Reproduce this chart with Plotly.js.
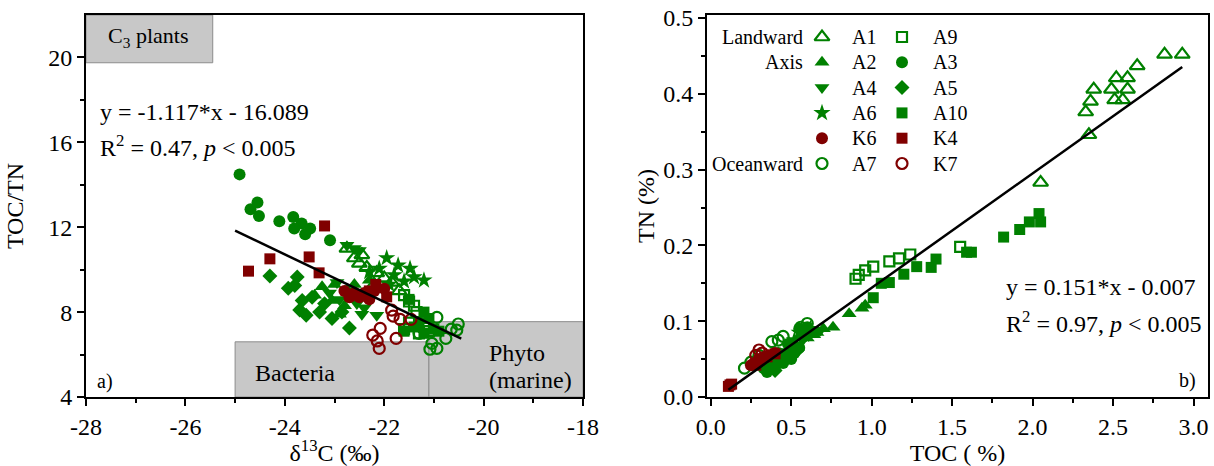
<!DOCTYPE html>
<html>
<head>
<meta charset="utf-8">
<script src="https://cdn.plot.ly/plotly-3.0.1.min.js"></script>
<style>html,body{margin:0;padding:0;background:#fff;}#chart{width:1214px;height:466px;}</style>
</head>
<body>
<div id="chart"></div>
<script>
// ---------- DATA : panel a) delta13C (‰) vs TOC/TN ----------
const A1_d13C  = [-22.75,-22.6,-22.45,-22.35,-22.15,-22.0,-21.85,-22.5,-21.7,-22.2];
const A1_TOCTN = [11.0,10.55,10.7,10.1,9.85,9.6,9.4,10.3,9.0,9.3];
const A2_d13C  = [-23.25,-23.0,-22.75,-23.05,-22.8,-22.6,-23.4,-22.9,-22.3,-22.6];
const A2_TOCTN = [9.2,9.3,9.05,8.55,8.3,8.6,8.8,7.9,9.5,9.3];
const A3_d13C  = [-24.91,-24.55,-24.69,-24.52,-24.11,-23.83,-23.81,-23.66,-23.59,-23.49,-23.09];
const A3_TOCTN = [14.49,13.16,12.85,12.53,12.28,12.48,11.94,12.17,11.67,11.94,11.39];
const A4_d13C  = [-22.75,-22.6,-22.5,-22.95,-22.7,-22.4,-22.15,-22.45,-22.9,-23.1,-22.55];
const A4_TOCTN = [11.15,11.0,10.9,9.4,9.0,8.2,7.85,7.9,8.6,8.9,8.4];
const A5_d13C  = [-24.3,-23.75,-23.93,-23.8,-23.65,-23.45,-23.57,-23.05,-22.7,-23.2,-23.7,-23.3,-22.85];
const A5_TOCTN = [9.7,9.65,9.12,9.25,8.55,8.7,7.85,7.7,7.25,8.4,8.1,8.0,8.0];
const A6_d13C  = [-21.95,-21.72,-21.48,-21.2,-21.4,-21.8,-21.6,-22.1,-22.3,-21.9];
const A6_TOCTN = [10.55,10.2,10.05,9.5,9.65,9.75,9.45,10.05,9.9,9.3];
const A7_d13C  = [-20.94,-20.51,-20.54,-20.76,-21.04,-21.08,-20.94,-21.3,-20.65];
const A7_TOCTN = [7.75,7.44,7.15,6.76,6.53,6.25,6.29,7.0,7.2];
const A9_d13C  = [-21.6,-21.5,-21.4,-21.6,-21.3,-21.2,-21.5,-21.35,-21.1];
const A9_TOCTN = [8.8,8.5,8.3,7.2,7.0,7.3,7.5,8.0,7.1];
const A10_d13C = [-21.5,-21.2,-21.1,-21.4,-21.2,-21.0,-21.6,-21.3,-20.9];
const A10_TOCTN= [8.6,8.0,7.7,7.3,7.0,7.2,7.1,7.5,7.1];
const K6_d13C  = [-22.8,-22.6,-22.5,-22.3,-22.2,-22.4,-22.7,-22.0];
const K6_TOCTN = [9.0,8.9,8.7,8.6,9.0,8.9,8.7,9.1];
const K4_d13C  = [-23.2,-24.3,-24.73,-23.51,-23.31,-22.17,-21.95,-22.3];
const K4_TOCTN = [12.06,10.51,9.93,10.6,9.85,9.3,8.72,9.0];
const K7_d13C  = [-21.85,-21.82,-21.68,-21.46,-22.08,-22.23,-22.14,-22.10,-21.76];
const K7_TOCTN = [8.09,7.81,7.66,7.66,7.23,6.92,6.64,6.29,6.76];

// ---------- DATA : panel b) TOC (%) vs TN (%) ----------
const A1_TOC  = [2.82,2.93,2.65,2.52,2.59,2.38,2.49,2.59,2.36,2.51,2.56,2.33,2.35,2.05];
const A1_TN   = [0.452,0.452,0.437,0.421,0.421,0.406,0.406,0.406,0.390,0.392,0.392,0.376,0.346,0.283];
const A2_TOC  = [0.96,0.94,0.86,0.76,0.70,0.64,0.60,0.66];
const A2_TN   = [0.121,0.117,0.110,0.092,0.090,0.082,0.078,0.085];
const A3_TOC  = [0.35,0.40,0.45,0.50,0.52,0.55,0.58,0.60,0.55,0.48,0.42,0.38,0.33];
const A3_TN   = [0.033,0.040,0.045,0.050,0.058,0.065,0.080,0.092,0.090,0.070,0.058,0.045,0.038];
const A4_TOC  = [0.45,0.52,0.62,0.68,0.57,0.50];
const A4_TN   = [0.060,0.068,0.085,0.088,0.075,0.055];
const A5_TOC  = [0.35,0.42,0.48,0.54,0.40,0.46];
const A5_TN   = [0.040,0.050,0.055,0.062,0.035,0.048];
const A6_TOC  = [0.52,0.58,0.62,0.55,0.49];
const A6_TN   = [0.075,0.082,0.090,0.085,0.068];
const A7_TOC  = [0.21,0.25,0.38,0.42,0.60,0.56,0.30,0.45];
const A7_TN   = [0.038,0.046,0.073,0.075,0.097,0.092,0.055,0.080];
const A9_TOC  = [0.90,0.92,0.96,1.01,1.11,1.17,1.24,1.55];
const A9_TN   = [0.156,0.161,0.167,0.172,0.179,0.183,0.188,0.198];
const A10_TOC = [2.04,2.05,1.98,1.92,1.82,1.59,1.62,1.40,1.37,1.28,1.20,1.11,1.06,1.01];
const A10_TN  = [0.242,0.231,0.231,0.221,0.211,0.191,0.191,0.182,0.171,0.172,0.162,0.151,0.150,0.131];
const K6_TOC  = [0.27,0.30,0.33,0.36,0.40,0.25];
const K6_TN   = [0.045,0.050,0.052,0.055,0.058,0.042];
const K4_TOC  = [0.11,0.13,0.12,0.30,0.35,0.40,0.28];
const K4_TN   = [0.014,0.017,0.016,0.048,0.053,0.057,0.042];
const K7_TOC  = [0.28,0.30,0.32];
const K7_TN   = [0.055,0.062,0.058];

// regression fits as printed on the chart
const fitLeft  = {slope: -1.117, intercept: -16.089, xRange: [-25, -20.45]};
const fitRight = {slope: 0.151,  intercept: -0.007,  xRange: [0.11, 2.93]};

// tick labels
const leftXTicks  = [-28, -26, -24, -22, -20, -18];
const leftXLabels = ['-28', '-26', '-24', '-22', '-20', '-18'];
const leftXMinor  = [-27, -25, -23, -21, -19];
const leftYTicks  = [4, 8, 12, 16, 20];
const leftYLabels = ['4', '8', '12', '16', '20'];
const leftYMinor  = [6, 10, 14, 18];
const rightXTicks  = [0, 0.5, 1, 1.5, 2, 2.5, 3];
const rightXLabels = ['0.0', '0.5', '1.0', '1.5', '2.0', '2.5', '3.0'];
const rightXMinor  = [0.25, 0.75, 1.25, 1.75, 2.25, 2.75];
const rightYTicks  = [0, 0.1, 0.2, 0.3, 0.4, 0.5];
const rightYLabels = ['0.0', '0.1', '0.2', '0.3', '0.4', '0.5'];
const rightYMinor  = [0.05, 0.15, 0.25, 0.35, 0.45];

// legend layout lists
const legendCol1   = ['A1', 'A2', 'A4', 'A6', 'K6', 'A7'];
const legendCol2   = ['A9', 'A3', 'A5', 'A10', 'K4', 'K7'];
const legendGroups = ['Landward', 'Axis', '', '', '', 'Oceanward'];

// ---------- STYLES ----------
const G = '#008000', M = '#800000';
const styles = {
  A1:  {symbol: 'triangle-up-open', color: G, size: 13},
  A2:  {symbol: 'triangle-up',      color: G, size: 13},
  A3:  {symbol: 'circle',           color: G, size: 12},
  A4:  {symbol: 'triangle-down',    color: G, size: 13},
  A5:  {symbol: 'diamond',          color: G, size: 11.5},
  A6:  {symbol: 'star',             color: G, size: 13},
  A7:  {symbol: 'circle-open',      color: G, size: 11},
  A9:  {symbol: 'square-open',      color: G, size: 10},
  A10: {symbol: 'square',           color: G, size: 11},
  K6:  {symbol: 'circle',           color: M, size: 12},
  K4:  {symbol: 'square',           color: M, size: 11},
  K7:  {symbol: 'circle-open',      color: M, size: 11}
};
const leftData = {
  A1: [A1_d13C, A1_TOCTN], A2: [A2_d13C, A2_TOCTN], A3: [A3_d13C, A3_TOCTN],
  A4: [A4_d13C, A4_TOCTN], A5: [A5_d13C, A5_TOCTN], A6: [A6_d13C, A6_TOCTN],
  A7: [A7_d13C, A7_TOCTN], A9: [A9_d13C, A9_TOCTN], A10: [A10_d13C, A10_TOCTN],
  K6: [K6_d13C, K6_TOCTN], K4: [K4_d13C, K4_TOCTN], K7: [K7_d13C, K7_TOCTN]
};
const rightData = {
  A1: [A1_TOC, A1_TN], A2: [A2_TOC, A2_TN], A3: [A3_TOC, A3_TN],
  A4: [A4_TOC, A4_TN], A5: [A5_TOC, A5_TN], A6: [A6_TOC, A6_TN],
  A7: [A7_TOC, A7_TN], A9: [A9_TOC, A9_TN], A10: [A10_TOC, A10_TN],
  K6: [K6_TOC, K6_TN], K4: [K4_TOC, K4_TN], K7: [K7_TOC, K7_TN]
};
const drawOrder = ['A5', 'A2', 'A4', 'A3', 'A1', 'A6', 'A9', 'A10', 'A7', 'K4', 'K6', 'K7'];

function markerOf(s) {
  const st = styles[s];
  const open = st.symbol.indexOf('open') >= 0;
  return {symbol: st.symbol, color: st.color, size: st.size,
          line: {width: open ? 2.2 : 0, color: st.color}};
}

const traces = [];
drawOrder.forEach(s => {
  traces.push({x: leftData[s][0], y: leftData[s][1], xaxis: 'x', yaxis: 'y', type: 'scatter',
               mode: 'markers', name: s, showlegend: false, marker: markerOf(s)});
});
drawOrder.forEach(s => {
  traces.push({x: rightData[s][0], y: rightData[s][1], xaxis: 'x2', yaxis: 'y2', type: 'scatter',
               mode: 'markers', name: s, showlegend: false, marker: markerOf(s)});
});
[[fitLeft, 'x', 'y'], [fitRight, 'x2', 'y2']].forEach(([f, xa, ya]) => {
  traces.push({x: f.xRange, y: f.xRange.map(v => f.slope * v + f.intercept), xaxis: xa, yaxis: ya,
               type: 'scatter', mode: 'lines', line: {color: '#000', width: 2.5}, showlegend: false});
});

// ---------- LAYOUT ----------
const W = 1214, H = 466;
const FONT = 'Liberation Serif';
const leftBox  = {x0: 86, x1: 583};
const rightBox = {x0: 707, x1: 1208};
const plotTop = 15, plotBottom = 397;
const yDom = [(H - plotBottom) / H, (H - plotTop) / H];

function axis(extra, titleText, standoff, tv, tt, mv) {
  return Object.assign({
    showline: true, linecolor: '#000', linewidth: 2, mirror: true,
    ticks: 'outside', ticklen: 7, tickwidth: 2, tickcolor: '#000',
    showgrid: false, zeroline: false, fixedrange: true,
    tickmode: 'array', tickvals: tv, ticktext: tt,
    tickfont: {family: FONT, size: 24, color: '#000'},
    minor: {tickmode: 'array', tickvals: mv, ticks: 'outside', ticklen: 4, tickwidth: 2,
            tickcolor: '#000', showgrid: false},
    title: {text: titleText, font: {family: FONT, size: 24, color: '#000'}, standoff: standoff}
  }, extra);
}

// legend markers on a page-sized helper axis (pixel units)
const legColX = [822, 902], legLabelX = [850, 931], legGroupX = 805;
const legRow0 = 37, legRowGap = 25.3;
[legendCol1, legendCol2].forEach((col, c) => {
  col.forEach((s, r) => {
    traces.push({x: [legColX[c]], y: [legRow0 + r * legRowGap], xaxis: 'x3', yaxis: 'y3',
                 type: 'scatter', mode: 'markers', showlegend: false, hoverinfo: 'skip',
                 marker: markerOf(s)});
  });
});

const ann = [];
function A(text, x, y, xref, yref, xanchor, size) {
  ann.push({text: text, x: x, y: y, xref: xref, yref: yref, xanchor: xanchor || 'center',
            yanchor: 'middle', showarrow: false,
            font: {family: FONT, size: size || 24, color: '#000'}});
}
// panel a text
A('C<sub>3</sub> plants', -26.75, 20.95, 'x', 'y', 'center', 22);
A('y = -1.117*x - 16.089', -27.76, 17.43, 'x', 'y', 'left');
A('R<sup>2</sup> = 0.47, <i>p</i> &lt; 0.005', -27.76, 15.85, 'x', 'y', 'left');
A('a)', -27.82, 4.75, 'x', 'y', 'left', 20);
A('Bacteria', -23.8, 5.14, 'x', 'y', 'center', 24);
A('Phyto', -19.93, 6.08, 'x', 'y', 'left', 24);
A('(marine)', -19.93, 4.8, 'x', 'y', 'left', 24);
// panel b text
A('y = 0.151*x - 0.007', 1.825, 0.1453, 'x2', 'y2', 'left');
A('R<sup>2</sup> = 0.97, <i>p</i> &lt; 0.005', 1.825, 0.0985, 'x2', 'y2', 'left');
A('b)', 3.03, 0.022, 'x2', 'y2', 'right', 20);
// legend text
[legendCol1, legendCol2].forEach((col, c) => {
  col.forEach((s, r) => A(s, legLabelX[c], legRow0 + r * legRowGap, 'x3', 'y3', 'left', 20));
});
legendGroups.forEach((g, r) => { if (g) A(g, legGroupX, legRow0 + r * legRowGap, 'x3', 'y3', 'right', 20); });

function box(x0, x1, y0, y1) {
  return {type: 'rect', xref: 'x', yref: 'y', x0: x0, x1: x1, y0: y0, y1: y1,
          fillcolor: '#c8c8c8', line: {color: '#8c8c8c', width: 1}, layer: 'below'};
}
const shapes = [box(-28, -25.45, 19.75, 22), box(-25, -21.1, 4, 6.6), box(-21.1, -18, 4, 7.55)];

const layout = {
  width: W, height: H, margin: {l: 0, r: 0, t: 0, b: 0},
  paper_bgcolor: '#fff', plot_bgcolor: 'rgba(0,0,0,0)',
  font: {family: FONT, color: '#000', size: 24},
  showlegend: false,
  xaxis: axis({domain: [leftBox.x0 / W, leftBox.x1 / W], anchor: 'y', range: [-28, -18]},
              'δ<sup>13</sup>C (‰)', 2, leftXTicks, leftXLabels, leftXMinor),
  yaxis: axis({domain: yDom, anchor: 'x', range: [4, 22]},
              'TOC/TN', 18, leftYTicks, leftYLabels, leftYMinor),
  xaxis2: axis({domain: [rightBox.x0 / W, rightBox.x1 / W], anchor: 'y2', range: [-0.023, 3.09]},
               'TOC ( %)', 2, rightXTicks, rightXLabels, rightXMinor),
  yaxis2: axis({domain: yDom, anchor: 'x2', range: [0, 0.504]},
               'TN (%)', 2, rightYTicks, rightYLabels, rightYMinor),
  xaxis3: {domain: [0, 1], anchor: 'y3', range: [0, W], visible: false, fixedrange: true},
  yaxis3: {domain: [0, 1], anchor: 'x3', range: [H, 0], visible: false, fixedrange: true},
  annotations: ann,
  shapes: shapes
};

Plotly.newPlot('chart', traces, layout, {displayModeBar: false, staticPlot: true});
</script>
</body>
</html>
